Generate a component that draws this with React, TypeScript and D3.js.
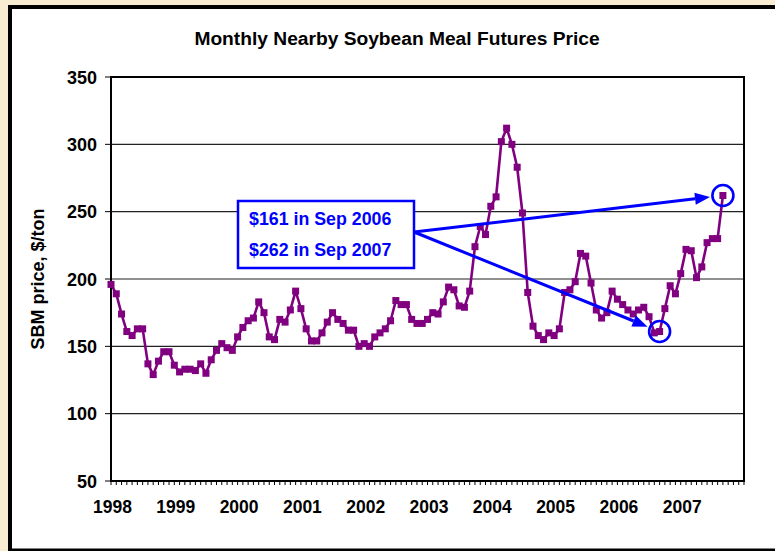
import React from "react";
import * as d3 from "d3";

const years = ["1998", "1999", "2000", "2001", "2002", "2003", "2004", "2005", "2006", "2007"];
const yTicks = [50, 100, 150, 200, 250, 300, 350];
const prices1998 = [196, 189, 174, 161, 158, 163, 163, 137, 129, 139, 146, 146];
const prices1999 = [136, 131, 133, 133, 132, 137, 130, 140, 147, 152, 149, 147];
const prices2000 = [157, 164, 169, 171, 183, 175, 157, 155, 170, 168, 177, 191];
const prices2001 = [178, 163, 154, 154, 160, 168, 175, 170, 167, 162, 162, 150];
const prices2002 = [152, 150, 157, 160, 163, 169, 184, 181, 181, 170, 167, 167];
const prices2003 = [170, 175, 174, 183, 194, 192, 180, 179, 191, 224, 239, 233];
const prices2004 = [254, 261, 302, 312, 300, 283, 249, 190, 165, 158, 155, 160];
const prices2005 = [158, 163, 190, 192, 198, 219, 217, 197, 177, 171, 175, 191];
const prices2006 = [185, 181, 177, 174, 177, 179, 172, 160, 161, 178, 195, 189];
const prices2007 = [204, 222, 221, 201, 209, 227, 230, 230, 262];
const prices = [
  ...prices1998, ...prices1999, ...prices2000, ...prices2001, ...prices2002,
  ...prices2003, ...prices2004, ...prices2005, ...prices2006, ...prices2007,
];
const annotationLines = ["$161 in Sep 2006", "$262 in Sep 2007"];
const highlightIdx = [104, 116]; // Sep 2006, Sep 2007
const nCategories = 121;

const FONT = "'Liberation Sans', Arial, Helvetica, sans-serif";
const PURPLE = "#800080";
const BLUE = "#0000FF";

export default function App() {
  const W = 775, H = 551;
  const x = d3.scaleLinear().domain([0, nCategories - 1]).range([111, 744]);
  const y = d3.scaleLinear().domain([50, 350]).range([481, 77]);
  const line = d3.line<number>().x((_, i) => x(i)).y((d) => y(d));
  const monthTicks = d3.range(nCategories);

  const box = { x: 238, y: 201, w: 176, h: 67 };
  const start: [number, number] = [box.x + box.w, 232];

  const arrows = highlightIdx.map((i) => {
    const px = x(i), py = y(prices[i]);
    const dx = px - start[0], dy = py - start[1];
    const len = Math.hypot(dx, dy);
    const ux = dx / len, uy = dy / len;
    const tip: [number, number] = [px - ux * 13, py - uy * 13];
    const headLen = 15, headW = 6;
    const base: [number, number] = [tip[0] - ux * headLen, tip[1] - uy * headLen];
    const nx = -uy, ny = ux;
    const head = [
      tip,
      [base[0] + nx * headW, base[1] + ny * headW],
      [base[0] - nx * headW, base[1] - ny * headW],
    ];
    return { px, py, base, head };
  });

  return (
    <svg width={W} height={H} style={{ position: "absolute", left: 0, top: 0 }} fontFamily={FONT}>
      <rect x={0} y={0} width={W} height={H} fill="#F8ECD2" />
      <rect x={10} y={7} width={790} height={543.5} fill="#FFFFFF" stroke="#000" strokeWidth={4} />

      <text x={397} y={45} textAnchor="middle" fontWeight="bold" fontSize={19.2} fill="#000">
        Monthly Nearby Soybean Meal Futures Price
      </text>

      {/* gridlines */}
      {yTicks.slice(1, -1).map((t) => (
        <line key={t} x1={x(0)} x2={x(nCategories - 1)} y1={y(t)} y2={y(t)} stroke="#222" strokeWidth={1.2} />
      ))}
      {/* plot frame */}
      <rect x={x(0)} y={y(350)} width={x(nCategories - 1) - x(0)} height={y(50) - y(350)} fill="none" stroke="#000" strokeWidth={2} />

      {/* y ticks & labels */}
      {yTicks.map((t) => (
        <g key={t}>
          <line x1={x(0) - 6} x2={x(0)} y1={y(t)} y2={y(t)} stroke="#000" strokeWidth={1} />
          <text x={97} y={y(t) + 6.5} textAnchor="end" fontWeight="bold" fontSize={18} fill="#000">{t}</text>
        </g>
      ))}

      {/* x month ticks */}
      {monthTicks.map((i) => (
        <line key={i} x1={x(i)} x2={x(i)} y1={y(50)} y2={y(50) + 4} stroke="#000" strokeWidth={1} />
      ))}
      {years.map((yr, k) => (
        <text key={yr} x={x(k * 12) + 1.5} y={513} textAnchor="middle" fontWeight="bold" fontSize={17.5} fill="#000">{yr}</text>
      ))}

      <text transform={`translate(44,279) rotate(-90)`} textAnchor="middle" fontWeight="bold" fontSize={18} fill="#000">
        SBM price, $/ton
      </text>

      {/* series */}
      <path d={line(prices) || ""} fill="none" stroke={PURPLE} strokeWidth={2.6} strokeLinejoin="round" />
      {prices.map((v, i) => (
        <rect key={i} x={x(i) - 3.5} y={y(v) - 3.5} width={7} height={7} fill={PURPLE} />
      ))}

      {/* annotation */}
      {arrows.map((a, k) => (
        <g key={k}>
          <line x1={start[0]} y1={start[1]} x2={a.base[0]} y2={a.base[1]} stroke={BLUE} strokeWidth={3} />
          <polygon points={a.head.map((p) => p.join(",")).join(" ")} fill={BLUE} />
          <circle cx={a.px} cy={a.py} r={10.5} fill="none" stroke={BLUE} strokeWidth={2.6} />
        </g>
      ))}
      <rect x={box.x} y={box.y} width={box.w} height={box.h} fill="#FFFFFF" stroke={BLUE} strokeWidth={2.5} />
      {annotationLines.map((t, k) => (
        <text key={k} x={249} y={225 + k * 31} fontWeight="bold" fontSize={17.8} fill={BLUE}>{t}</text>
      ))}
    </svg>
  );
}
